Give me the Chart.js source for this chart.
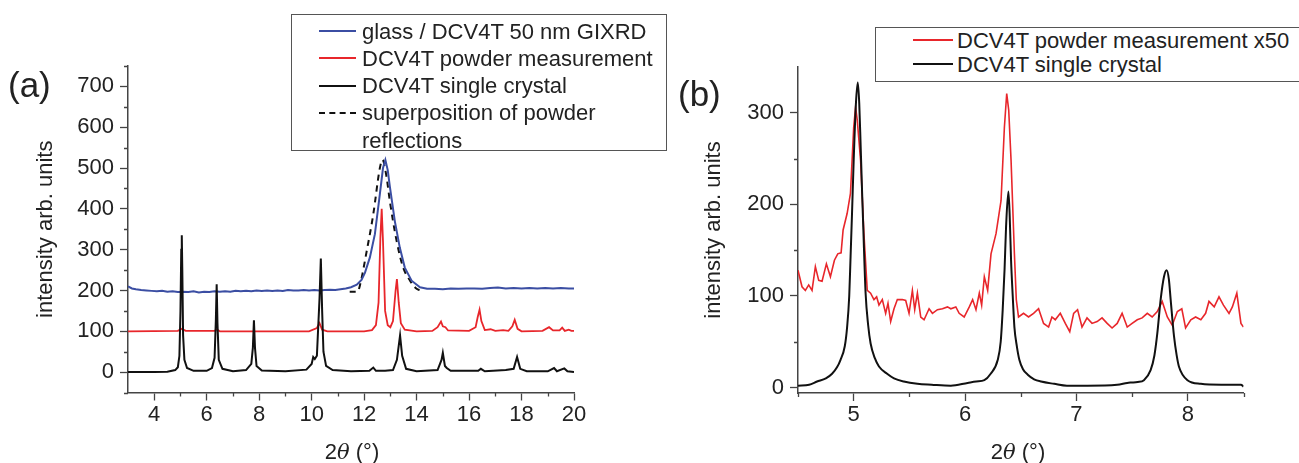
<!DOCTYPE html>
<html>
<head>
<meta charset="utf-8">
<script src="https://cdn.jsdelivr.net/npm/chart.js@4.4.0/dist/chart.umd.min.js"></script>
<style>
  body { margin: 0; background: #fff; font-family: "Liberation Sans", Arial, sans-serif; color: #222; }
  #wrap { position: relative; width: 1299px; height: 463px; overflow: hidden; }
  canvas { position: absolute; top: 0; }
  .panel { position: absolute; font-size: 35px; line-height: 40px; }
  .xtitle { position: absolute; width: 120px; text-align: center; font-size: 22px; line-height: 26px; }
  .xtitle i { font-family: "DejaVu Serif", serif; font-size: 21px; }
  .legend { position: absolute; border: 1px solid #555; background: #fff; font-size: 22px; box-sizing: border-box; }
  .row { position: absolute; height: 27px; line-height: 27px; white-space: nowrap; }
  .swatch { position: absolute; height: 0; }
</style>
</head>
<body>
<div id="wrap">
  <canvas id="chartA" width="600" height="463" style="left:0"></canvas>
  <canvas id="chartB" width="639" height="463" style="left:660px"></canvas>

  <div class="panel" style="left:8px;top:65px">(a)</div>
  <div class="panel" style="left:678px;top:74px">(b)</div>

  <div class="xtitle" style="left:292px;top:439px">2<i>θ</i> (°)</div>
  <div class="xtitle" style="left:958px;top:439px">2<i>θ</i> (°)</div>

  <div class="legend" id="legendA" style="left:291px;top:14px;width:376px;height:137px"></div>
  <div class="legend" id="legendB" style="left:875px;top:27px;width:440px;height:55px"></div>
</div>

<script>
// ---- panel (a): x = 2theta (deg), y = intensity ----
const xTicksA = [4, 6, 8, 10, 12, 14, 16, 18, 20];
const xMinorA = [5, 7, 9, 11, 13, 15, 17, 19];
const yTicksA = [0, 100, 200, 300, 400, 500, 600, 700];
const yMinorA = [-50, 50, 150, 250, 350, 450, 550, 650, 750];

const gixrdA = [[3,210],[3.15,205],[3.3,203],[3.5,201],[3.7,200],[3.9,199],[4.1,198],[4.3,199],[4.5,197],
  [4.7,198],[4.9,196],[5.1,197],[5.3,196],[5.5,198],[5.7,195],[5.9,197],[6.1,196],[6.3,198],[6.5,197],
  [6.7,198],[6.9,197],[7.1,199],[7.3,198],[7.5,199],[7.7,198],[7.9,200],[8.1,199],[8.3,200],[8.5,199],
  [8.7,200],[8.9,199],[9.1,201],[9.3,200],[9.5,200],[9.7,201],[9.9,200],[10.1,201],[10.3,200],[10.5,201],
  [10.7,202],[10.9,201],[11.1,203],[11.3,205],[11.5,208],[11.72,214],[11.9,226],[12.03,243],[12.22,281],
  [12.41,338],[12.6,436],[12.72,500],[12.81,520],[12.9,495],[12.98,455],[13.17,370],[13.36,305],[13.55,256],
  [13.81,224],[14.13,208],[14.4,204],[14.7,204],[15,203],[15.3,205],[15.6,204],[15.9,205],[16.2,205],
  [16.5,204],[16.8,206],[17.1,207],[17.4,205],[17.7,206],[18,205],[18.3,206],[18.6,205],[18.9,206],
  [19.2,205],[19.5,206],[19.8,205],[20,205]];

const powderA = [[3,100],[4.9,101],[5.05,106],[5.2,101],[6.3,101],[6.38,105],[6.5,100],[9.9,100],[10.2,108],
  [10.3,120],[10.4,104],[10.6,100],[12,100],[12.3,103],[12.45,115],[12.55,170],[12.62,330],[12.67,400],
  [12.72,320],[12.8,150],[12.9,115],[13,110],[13.1,125],[13.2,200],[13.25,228],[13.32,170],[13.4,120],
  [13.55,104],[14,100],[14.6,101],[14.8,110],[14.93,124],[15,112],[15.1,110],[15.2,102],[16,101],
  [16.25,110],[16.33,135],[16.4,153],[16.47,125],[16.6,103],[16.82,105],[17,101],[17.3,103],[17.5,101],
  [17.65,112],[17.74,128],[17.85,106],[18,100],[18.8,101],[19.05,110],[19.2,102],[19.45,102],[19.55,109],
  [19.65,101],[19.8,104],[19.9,101],[20,101]];

const crystalA = [[3,0],[4,0],[4.5,1],[4.8,5],[4.9,12],[4.96,40],[5,150],[5.03,300],[5.05,335],[5.07,250],
  [5.1,90],[5.15,30],[5.25,10],[5.5,3],[6,3],[6.2,10],[6.3,35],[6.35,130],[6.38,215],[6.41,120],[6.46,30],
  [6.6,8],[7,2],[7.5,5],[7.7,20],[7.76,60],[7.8,127],[7.84,60],[7.9,15],[8.1,4],[9,2],[9.8,6],[10,20],
  [10.06,37],[10.12,32],[10.2,40],[10.3,180],[10.35,278],[10.4,150],[10.45,50],[10.55,15],[10.8,5],
  [11.5,2],[12.2,3],[12.35,11],[12.45,3],[12.8,3],[13.1,5],[13.25,30],[13.37,90],[13.45,40],[13.6,8],
  [14,2],[14.8,5],[14.95,30],[15,47],[15.08,15],[15.15,10],[15.3,3],[16,3],[16.35,3],[16.45,8],[16.6,2],
  [17.4,5],[17.7,8],[17.83,37],[17.95,8],[18.2,2],[19,2],[19.24,10],[19.35,2],[19.63,9],[19.75,2],[20,0]];

const superA = [[11.45,197],[11.75,197],[11.85,215],[12.1,297],[12.35,387],[12.6,500],[12.7,520],
  [12.85,480],[12.98,419],[13.24,321],[13.49,256],[13.75,224],[14,204],[14.15,200]];

// ---- panel (b) ----
const xTicksB = [5, 6, 7, 8];
const xMinorB = [4.5, 5.5, 6.5, 7.5, 8.5];
const yTicksB = [0, 100, 200, 300];
const yMinorB = [50, 150, 250];

const powderB = [[4.5,128],[4.536,110],[4.566,106],[4.596,112],[4.626,106],[4.656,132],[4.686,117],
  [4.716,116],[4.755,135],[4.791,121],[4.827,139],[4.857,146],[4.887,147],[4.905,172],[4.941,190],
  [4.971,212],[5,284],[5.017,306],[5.032,292],[5.062,248],[5.092,168],[5.122,106],[5.152,103],[5.182,96],
  [5.206,99],[5.227,90],[5.257,96],[5.287,81],[5.308,92],[5.332,72],[5.362,86],[5.392,96],[5.437,96],
  [5.467,95],[5.497,81],[5.527,106],[5.548,85],[5.572,103],[5.602,77],[5.632,74],[5.677,86],[5.707,81],
  [5.752,85],[5.797,86],[5.842,88],[5.872,86],[5.917,88],[5.947,81],[5.992,77],[6.038,88],[6.068,96],
  [6.098,85],[6.128,103],[6.149,90],[6.173,121],[6.203,106],[6.233,146],[6.278,168],[6.323,204],
  [6.353,284],[6.374,321],[6.392,303],[6.413,248],[6.443,146],[6.46,96],[6.48,77],[6.525,81],[6.57,77],
  [6.615,81],[6.66,86],[6.705,70],[6.75,66],[6.78,77],[6.81,74],[6.855,81],[6.9,70],[6.94,61],[6.975,81],
  [7.01,85],[7.05,66],[7.095,76],[7.14,70],[7.186,72],[7.23,76],[7.276,70],[7.32,65],[7.366,70],[7.41,81],
  [7.456,66],[7.5,70],[7.546,74],[7.59,76],[7.636,81],[7.68,77],[7.726,83],[7.77,94],[7.816,77],[7.86,68],
  [7.906,83],[7.946,86],[7.98,65],[8.027,74],[8.07,77],[8.117,74],[8.16,81],[8.19,94],[8.237,88],[8.28,99],
  [8.32,90],[8.37,81],[8.4,88],[8.44,103],[8.477,70],[8.5,66]];

const crystalB = [[4.5,2],[4.6,3],[4.671,6.5],[4.75,10],[4.806,15],[4.85,22],[4.881,30],[4.92,45],[4.941,66],
  [4.96,100],[4.971,139],[4.985,190],[5,248],[5.02,310],[5.037,333],[5.05,310],[5.062,266],[5.075,215],
  [5.086,175],[5.107,103],[5.13,68],[5.152,48],[5.19,32],[5.227,23],[5.3,15],[5.362,10],[5.45,6.5],
  [5.572,4],[5.7,3],[5.872,2],[6.023,5],[6.1,6.5],[6.173,8],[6.23,15],[6.293,30],[6.32,50],[6.338,85],
  [6.355,130],[6.368,175],[6.389,214],[6.4,190],[6.413,139],[6.428,100],[6.443,66],[6.465,45],[6.488,30],
  [6.52,20],[6.563,14],[6.62,9],[6.683,6.5],[6.8,4],[6.915,2],[7.1,2],[7.366,3],[7.456,5],[7.486,5.4],
  [7.55,6],[7.606,8],[7.666,19],[7.7,35],[7.726,59],[7.756,96],[7.786,121],[7.81,128],[7.83,118],
  [7.846,96],[7.876,56],[7.9,35],[7.92,23],[7.997,8],[8.117,4],[8.3,3],[8.477,3],[8.5,1]];

const BLUE = '#3b4ea3', RED = '#e8262b', BLACK = '#111';
const AXIS = '#444';
const FONT = { family: '"Liberation Sans", Arial, sans-serif', size: 22 };

function toXY(pairs) { return pairs.map(p => ({ x: p[0], y: p[1] })); }

// short minor ticks, drawn from the scales
const minorTicks = {
  id: 'minorTicks',
  afterDraw(chart, args, opts) {
    const ctx = chart.ctx, xs = chart.scales.x, ys = chart.scales.y;
    ctx.save();
    ctx.strokeStyle = AXIS;
    ctx.lineWidth = 1.3;
    ctx.beginPath();
    opts.x.forEach(v => {
      const px = Math.round(xs.getPixelForValue(v)) + 0.5;
      ctx.moveTo(px, xs.top); ctx.lineTo(px, xs.top + 4);
    });
    opts.y.forEach(v => {
      const py = Math.round(ys.getPixelForValue(v)) + 0.5;
      ctx.moveTo(ys.right - 4, py); ctx.lineTo(ys.right, py);
    });
    ctx.stroke();
    ctx.restore();
  }
};

function axisOpts(min, max, ticks, fit, extra) {
  return Object.assign({
    type: 'linear', min: min, max: max,
    afterBuildTicks: s => { s.ticks = ticks.map(v => ({ value: v })); },
    afterFit: fit,
    border: { display: true, color: AXIS, width: 1.5 },
    grid: { drawOnChartArea: false, drawTicks: true, tickLength: 8, tickColor: AXIS, tickWidth: 1.3 },
    ticks: { autoSkip: false, maxRotation: 0, color: '#222', font: FONT }
  }, extra);
}

function makeChart(id, datasets, o) {
  return new Chart(document.getElementById(id), {
    type: 'line',
    data: { datasets: datasets },
    options: {
      responsive: false,
      animation: false,
      parsing: true,
      layout: { padding: { left: 0, top: o.top, right: o.right, bottom: 0 } },
      elements: { point: { radius: 0 }, line: { tension: 0 } },
      plugins: {
        legend: { display: false },
        tooltip: { enabled: false },
        minorTicks: { x: o.xMinor, y: o.yMinor }
      },
      scales: {
        x: axisOpts(o.xMin, o.xMax, o.xTicks, s => { s.height = o.xHeight; }, {
          ticks: { autoSkip: false, maxRotation: 0, color: '#222', font: FONT, padding: 1 }
        }),
        y: axisOpts(o.yMin, o.yMax, o.yTicks, s => { s.width = o.yWidth; }, {
          ticks: { autoSkip: false, color: '#222', font: FONT, padding: 6 },
          title: { display: true, text: 'intensity arb. units', color: '#222', font: FONT,
                   padding: { top: o.titlePad, bottom: 0 } }
        })
      }
    },
    plugins: [minorTicks]
  });
}

makeChart('chartA', [
  { label: 'DCV4T single crystal', data: toXY(crystalA), borderColor: BLACK, borderWidth: 2 },
  { label: 'glass / DCV4T 50 nm GIXRD', data: toXY(gixrdA), borderColor: BLUE, borderWidth: 2 },
  { label: 'superposition of powder reflections', data: toXY(superA), borderColor: BLACK, borderWidth: 2,
    borderDash: [6, 5], cubicInterpolationMode: 'monotone' },
  { label: 'DCV4T powder measurement', data: toXY(powderA), borderColor: RED, borderWidth: 1.8 }
], {
  top: 66, right: 26, xMin: 3, xMax: 20, yMin: -50, yMax: 750,
  xTicks: xTicksA, yTicks: yTicksA, xMinor: xMinorA, yMinor: yMinorA,
  xHeight: 70.5, yWidth: 128, titlePad: 33
});

makeChart('chartB', [
  { label: 'DCV4T single crystal', data: toXY(crystalB), borderColor: BLACK, borderWidth: 2,
    cubicInterpolationMode: 'monotone' },
  { label: 'DCV4T powder measurement x50', data: toXY(powderB), borderColor: RED, borderWidth: 1.6 }
], {
  top: 67, right: 55.5, xMin: 4.5, xMax: 8.5, yMin: -6, yMax: 350,
  xTicks: xTicksB, yTicks: yTicksB, xMinor: xMinorB, yMinor: yMinorB,
  xHeight: 70, yWidth: 138, titlePad: 41
});

// legends (html boxes)
function buildLegend(id, rows, o) {
  const box = document.getElementById(id);
  rows.forEach((r, i) => {
    const row = document.createElement('div');
    row.className = 'row';
    row.style.left = o.textLeft + 'px';
    row.style.top = (o.firstCenter + i * o.step - 13.5) + 'px';
    row.textContent = r.text;
    box.appendChild(row);
    if (r.color) {
      const sw = document.createElement('div');
      sw.className = 'swatch';
      sw.style.left = o.swLeft + 'px';
      sw.style.width = o.swWidth + 'px';
      sw.style.top = (o.firstCenter + i * o.step - 1) + 'px';
      sw.style.borderTop = '2px ' + (r.dash ? 'dashed ' : 'solid ') + r.color;
      box.appendChild(sw);
    }
  });
}

buildLegend('legendA', [
  { text: 'glass / DCV4T 50 nm GIXRD', color: BLUE },
  { text: 'DCV4T powder measurement', color: RED },
  { text: 'DCV4T single crystal', color: BLACK },
  { text: 'superposition of powder', color: BLACK, dash: true },
  { text: 'reflections' }
], { textLeft: 70, swLeft: 27, swWidth: 37, firstCenter: 16, step: 27.3 });

buildLegend('legendB', [
  { text: 'DCV4T powder measurement x50', color: RED },
  { text: 'DCV4T single crystal', color: BLACK }
], { textLeft: 81, swLeft: 37, swWidth: 40, firstCenter: 12, step: 24 });
</script>
</body>
</html>
